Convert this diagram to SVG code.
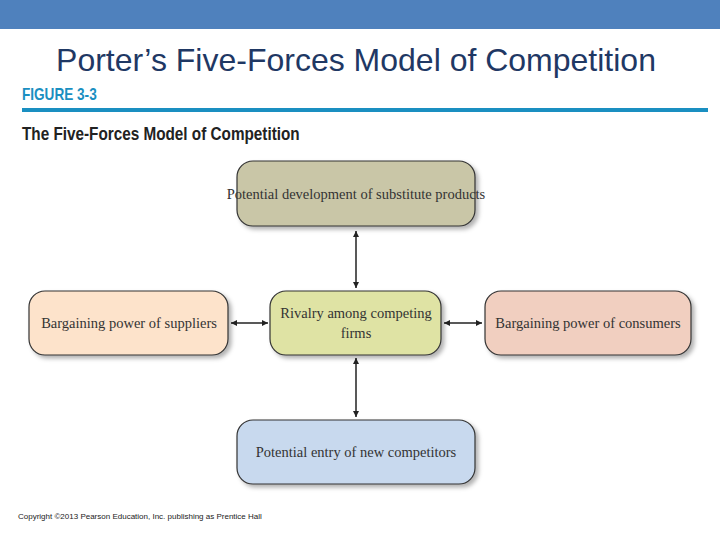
<svg xmlns="http://www.w3.org/2000/svg" width="720" height="540" viewBox="0 0 720 540">
<defs>
<marker id="ah" viewBox="0 0 10 10" refX="10" refY="5" markerWidth="4" markerHeight="4" orient="auto-start-reverse"><path d="M0,0 L10,5 L0,10 z" fill="#222"/></marker>
<filter id="sh" x="-10%" y="-10%" width="125%" height="130%"><feDropShadow dx="3" dy="3" stdDeviation="2" flood-color="#000" flood-opacity="0.3"/></filter>
</defs>
<style>
.box{stroke:#333;stroke-width:1.2;filter:url(#sh)}
.lbl{font-family:"Liberation Serif",serif;font-size:14.5px;fill:#333;text-anchor:middle}
.con{stroke:#222;stroke-width:1.5;fill:none;marker-start:url(#ah);marker-end:url(#ah)}
</style>
<rect x="0" y="0" width="720" height="29" fill="#4f81bd"/>
<text x="356" y="71" font-family="Liberation Sans,sans-serif" font-size="32" fill="#1f3864" text-anchor="middle">Porter’s Five-Forces Model of Competition</text>
<text x="22" y="100" font-family="Liberation Sans,sans-serif" font-weight="bold" font-size="16" fill="#1a8fc1" transform="translate(22,100) scale(0.85,1) translate(-22,-100)">FIGURE 3-3</text>
<rect x="22" y="108" width="686" height="4" fill="#1a8fc1"/>
<text x="22" y="140" font-family="Liberation Sans,sans-serif" font-weight="bold" font-size="18" fill="#222" transform="translate(22,140) scale(0.85,1) translate(-22,-140)">The Five-Forces Model of Competition</text>
<g id="connectors">
<line class="con" x1="356" y1="231" x2="356" y2="288"/>
<line class="con" x1="356" y1="358" x2="356" y2="417"/>
<line class="con" x1="231" y1="323" x2="268" y2="323"/>
<line class="con" x1="444" y1="323" x2="482" y2="323"/>
</g>
<g id="substitutes"><rect class="box" x="237" y="161" width="238" height="65" rx="16" fill="#c9c6a7"/><text class="lbl" x="356" y="199">Potential development of substitute products</text></g>
<g id="suppliers"><rect class="box" x="29" y="291" width="199" height="64" rx="16" fill="#fde3cb"/><text class="lbl" x="129" y="328">Bargaining power of suppliers</text></g>
<g id="rivalry"><rect class="box" x="270" y="291" width="171" height="64" rx="16" fill="#dfe3a4"/><text class="lbl" x="356" y="318">Rivalry among competing</text><text class="lbl" x="356" y="338">firms</text></g>
<g id="consumers"><rect class="box" x="485" y="291" width="206" height="64" rx="16" fill="#f1cfc0"/><text class="lbl" x="588" y="328">Bargaining power of consumers</text></g>
<g id="entrants"><rect class="box" x="237" y="420" width="238" height="64" rx="16" fill="#c8d9ee"/><text class="lbl" x="356" y="457">Potential entry of new competitors</text></g>
<text x="18" y="519" font-family="Liberation Sans,sans-serif" font-size="8" fill="#222">Copyright ©2013 Pearson Education, Inc. publishing as Prentice Hall</text>
</svg>
